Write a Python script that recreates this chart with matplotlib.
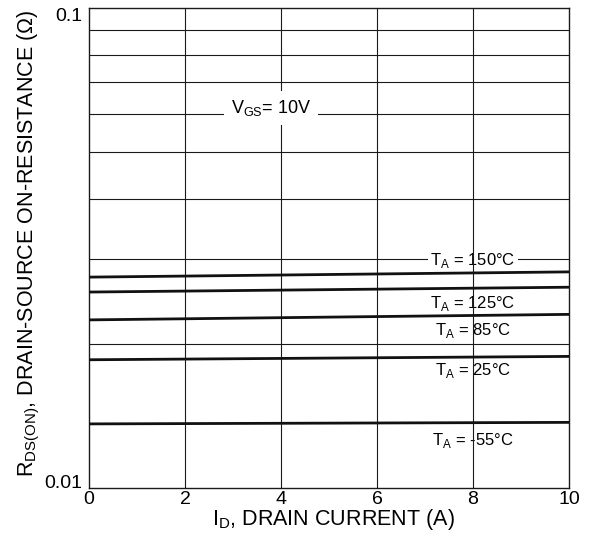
import matplotlib.pyplot as plt
import numpy as np

plt.rcParams['font.family'] = ['Liberation Sans', 'DejaVu Sans']

# drain current (A) and R_DS(on) (ohm) at both ends of each curve
current = [0, 10]
r_150 = [0.0275, 0.0282]
r_125 = [0.0256, 0.0262]
r_85 = [0.0224, 0.0230]
r_25 = [0.0185, 0.0188]
r_m55 = [0.0136, 0.0137]

curves = [r_150, r_125, r_85, r_25, r_m55]
temp_labels = ["150", "125", "85", "25", "-55"]
label_y = [0.02915, 0.02371, 0.02084, 0.01719, 0.01229]

fig = plt.figure(figsize=(5.89, 5.46), dpi=100)
ax = fig.add_axes([89/589, 1 - 488/546, 480/589, 480/546])

ax.set_yscale("log")
ax.set_xlim(0, 10)
ax.set_ylim(0.01, 0.1)

# grid: horizontal under the label boxes, vertical on top of them
for gy in np.arange(0.02, 0.1, 0.01):
    ax.axhline(gy, color="#1a1a1a", lw=0.8, zorder=1)
for gx in [2, 4, 6, 8]:
    ax.axvline(gx, color="#1a1a1a", lw=0.8, zorder=2.5)

for r in curves:
    ax.plot(current, r, color="#111111", lw=2.0, solid_capstyle="butt", zorder=3)

box = dict(facecolor="white", edgecolor="none", pad=1.5)
for t, y in zip(temp_labels, label_y):
    ax.text(8, y, "T$_\\mathregular{A}$ = " + t + "°C", ha="center", va="baseline",
            fontsize=12, bbox=box, zorder=2)

ax.text(3.8, 0.0604, "V$_\\mathregular{GS}$= 10V", ha="center", va="baseline",
        fontsize=13, bbox=dict(facecolor="white", edgecolor="none", pad=5), zorder=4)

ax.set_xticks([0, 2, 4, 6, 8, 10])
ax.set_yticks([0.01, 0.1])
ax.set_yticklabels(["0.01", "0.1"])
ax.yaxis.set_minor_locator(plt.NullLocator())
ax.tick_params(length=0, labelsize=14)
ax.tick_params(axis="x", pad=2)
ax.tick_params(axis="y", pad=5)
ylabs = ax.get_yticklabels()
ylabs[0].set_va("baseline")
ylabs[1].set_va("top")

for s in ax.spines.values():
    s.set_color("#1a1a1a")
    s.set_linewidth(1)

ax.set_xlabel("I$_\\mathregular{D}$, DRAIN CURRENT (A)", fontsize=15.5)
ax.set_ylabel("R$_\\mathregular{DS(ON)}$, DRAIN-SOURCE ON-RESISTANCE (Ω)", fontsize=15.5)
ax.xaxis.set_label_coords(0.51, -0.04)
ax.yaxis.set_label_coords(-0.098, 0.51)

fig.savefig("out.png", dpi=100)
